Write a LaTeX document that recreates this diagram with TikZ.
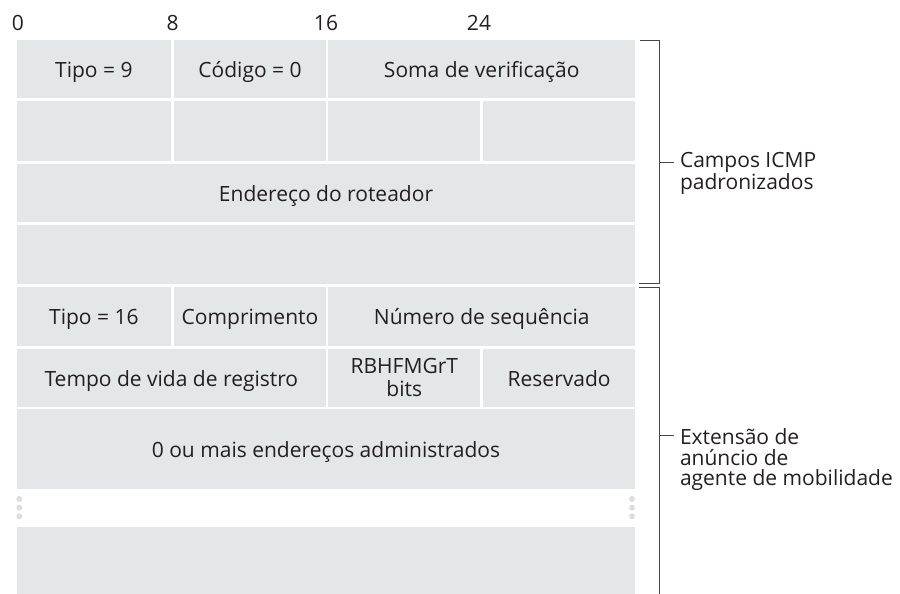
\documentclass[tikz,border=0pt]{standalone}
\usepackage{fontspec}
\setmainfont{Open Sans}
\usepackage{tikz}
\definecolor{pdfcolor1}{RGB}{35,31,32}
\definecolor{pdfcolor2}{RGB}{229,230,232}
\definecolor{pdfcolor3}{RGB}{221,222,224}
\definecolor{pdfcolor4}{RGB}{70,70,72}

\begin{document}
\begin{tikzpicture}[x=1bp,y=-1bp,inner sep=0pt,outer sep=0pt,
  box/.style={fill=pdfcolor2,text=pdfcolor1,align=center,font=\fontsize{21bp}{23bp}\selectfont},
  cell/.style={box,text height=16.9bp,text depth=0bp},
  lbl/.style={text=pdfcolor1,font=\fontsize{21bp}{20.5bp}\selectfont},
  brk/.style={draw=pdfcolor4,line width=0.9bp}]
  \useasboundingbox (0,0) rectangle (900,594);
  % bit numbers
  \node[lbl,anchor=base] (b0) at (18,30.7) {0};
  \node[lbl,anchor=base] (b8) at (172.7,30.7) {8};
  \node[lbl,anchor=base] (b16) at (326,30.7) {16};
  \node[lbl,anchor=base] (b24) at (479,30.7) {24};
  % standard ICMP fields
  \node[cell,minimum width=154.3bp,minimum height=57.7bp] (tipo) at (93.85,68.85) {Tipo = 9};
  \node[cell,minimum width=152bp,minimum height=57.7bp] (codigo) at (250,68.85) {Código = 0};
  \node[cell,minimum width=307bp,minimum height=57.7bp] (soma) at (481.8,68.85) {Soma de verificação};
  \node[cell,minimum width=154.3bp,minimum height=60.3bp] (vaza) at (93.85,130.85) {};
  \node[cell,minimum width=152bp,minimum height=60.3bp] (vazb) at (250,130.85) {};
  \node[cell,minimum width=152bp,minimum height=60.3bp] (vazc) at (404.3,130.85) {};
  \node[cell,minimum width=152.3bp,minimum height=60.3bp] (vazd) at (559.15,130.85) {};
  \node[cell,minimum width=618.6bp,minimum height=58bp] (ender) at (326,192.7) {Endereço do roteador};
  \node[cell,minimum width=618.6bp,minimum height=59bp] (vaze) at (326,254.5) {};
  % mobility agent advertisement extension
  \node[cell,minimum width=154.3bp,minimum height=58.7bp] (tipob) at (93.85,316.35) {Tipo = 16};
  \node[cell,minimum width=152bp,minimum height=58.7bp] (compr) at (250,316.35) {Comprimento};
  \node[cell,minimum width=307bp,minimum height=58.7bp] (numero) at (481.8,316.35) {Número de sequência};
  \node[cell,minimum width=309.3bp,minimum height=57.7bp] (tempo) at (171.35,377.85) {Tempo de vida de registro};
  \node[box,minimum width=152bp,minimum height=57.7bp] (bits) at (404.3,377.85) {RBHFMGrT\\bits};
  \node[cell,minimum width=152.3bp,minimum height=57.7bp] (reserv) at (559.15,377.85) {Reservado};
  \node[cell,minimum width=618.6bp,minimum height=79.4bp] (zeroou) at (326,449) {0 ou mais endereços administrados};
  \node[cell,minimum width=618.6bp,minimum height=67.3bp] (ultima) at (326,560.35) {};
  \foreach \y in {499,507.7,516.3} {
    \fill[pdfcolor3] (19.3,\y) circle (3);
    \fill[pdfcolor3] (632,\y) circle (3);
  }
  % brackets
  \coordinate (ctop) at (640,40);
  \coordinate (cbot) at (639,283.5);
  \coordinate (etop) at (639,287.3);
  \coordinate (ebot) at (659,594);
  \node[lbl,anchor=base west,align=left] (campos) at (680,189.5) {Campos ICMP\\padronizados};
  \node[lbl,anchor=base west,align=left] (extens) at (680,485.6) {Extensão de\\anúncio de\\agente de mobilidade};
  \draw[brk] (ctop) -- (659,40) -- (659,283.5) -- (cbot);
  \draw[brk] (659,162) -- (674,162);
  \draw[brk] (etop) -- (659,287.3) -- (ebot);
  \draw[brk] (659,435) -- (674,435);
\end{tikzpicture}
\end{document}
